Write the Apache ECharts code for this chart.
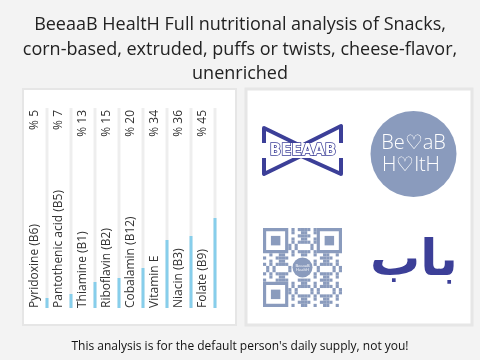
<!DOCTYPE html>
<html><head><meta charset="utf-8">
<script src="https://cdn.jsdelivr.net/npm/echarts@6/dist/echarts.min.js"></script>
<style>html,body{margin:0;padding:0;background:#f3f3f3}#c{width:480px;height:360px}</style>
</head><body><div id="c"></div>
<script>
var categories = ['Pyridoxine (B6)','Pantothenic acid (B5)','Thiamine (B1)','Riboflavin (B2)','Cobalamin (B12)','Vitamin E','Niacin (B3)','Folate (B9)'];
var values = [5, 7, 13, 15, 20, 34, 36, 45];
var yMax = 100;
var titleText = 'BeeaaB HealtH Full nutritional analysis of Snacks,\ncorn-based, extruded, puffs or twists, cheese-flavor,\nunenriched';
var footerText = "This analysis is for the default person's daily supply, not you!";

var FONT = 'Open Sans';
var DARK = '#3c3f98', SOFT = '#8a9bbd';

// QR-like decoration
var qr = [];
var qx = 263, qy = 228, N = 25, m = 79 / N;
function finder(cx, cy){
  qr.push({type:'rect', shape:{x:cx, y:cy, width:7*m, height:7*m}, style:{fill:'none', stroke:SOFT, lineWidth:m}, silent:true});
  qr.push({type:'rect', shape:{x:cx+2*m, y:cy+2*m, width:3*m, height:3*m}, style:{fill:SOFT}, silent:true});
}
for (var i = 0; i < N; i++) for (var j = 0; j < N; j++) {
  var inF = (i < 8 && j < 8) || (i < 8 && j > N-9) || (i > N-9 && j < 8);
  var inC = Math.abs(i-12) < 4 && Math.abs(j-12) < 4;
  if (inF || inC) continue;
  if (((i*i*5 + j*j*3 + i*j*7 + i + 2*j) % 7) < 3) qr.push({type:'rect', shape:{x:qx+j*m, y:qy+i*m, width:m, height:m}, style:{fill:SOFT}, silent:true});
}
finder(qx + m/2, qy + m/2); finder(qx + (N-7)*m - m/2, qy + m/2); finder(qx + m/2, qy + (N-7)*m - m/2);
qr.push({type:'circle', shape:{cx:qx+39.5, cy:qy+39.5, r:10}, style:{fill:SOFT}, silent:true});
qr.push({type:'text', style:{x:qx+39.5, y:qy+39.5, text:'BeeaaB\nHealtH', fill:'#fff', fontSize:4, align:'center', verticalAlign:'middle', fontFamily:FONT}, silent:true});

var chart = echarts.init(document.getElementById('c'), null, {renderer:'canvas'});
chart.setOption({
  backgroundColor: '#f3f3f3',
  animation: false,
  title: [{
    text: titleText, left: 'center', top: 8,
    textStyle: {fontFamily: FONT, fontSize: 18, fontWeight: 'normal', color: '#222', lineHeight: 24.5}
  }, {
    text: footerText, left: 'center', top: 336,
    textStyle: {fontFamily: FONT, fontSize: 12, fontWeight: 'normal', color: '#111'}
  }],
  graphic: [
    {type:'rect', z:-1, shape:{x:23, y:89, width:213, height:236}, style:{fill:'#fff', stroke:'#e6e6e6', lineWidth:2}, silent:true},
    {type:'rect', z:-1, shape:{x:246, y:89, width:226, height:236}, style:{fill:'#fff', stroke:'#e6e6e6', lineWidth:3}, silent:true},
    // bow-tie logo
    {type:'polygon', shape:{points:[[264,128],[301,146],[341,126],[341,174],[301,156],[264,174]]}, style:{fill:'none', stroke:DARK, lineWidth:4, lineJoin:'round'}, silent:true},
    {type:'rect', shape:{x:262, y:143, width:82, height:15}, style:{fill:'#fff'}, silent:true},
    {type:'text', style:{x:303, y:151, text:'BEEAAB', fill:'#fff', stroke:DARK, lineWidth:1.5, fontSize:15, fontWeight:'bold', fontFamily:'DejaVu Sans', align:'center', verticalAlign:'middle'}, silent:true},
    // circle logo
    {type:'circle', shape:{cx:413.5, cy:154, r:43}, style:{fill:SOFT}, silent:true},
    {type:'text', style:{x:413.5, y:143, text:'Be\u2661aB', fill:'#fff', fontSize:20, fontWeight:200, fontFamily:FONT, align:'center', verticalAlign:'middle'}, silent:true},
    {type:'text', style:{x:411, y:165, text:'H\u2661ltH', fill:'#fff', fontSize:20, fontWeight:200, fontFamily:FONT, align:'center', verticalAlign:'middle'}, silent:true},
    // arabic logo
    {type:'text', style:{x:414, y:262, text:'\u0628\u0627\u0628', fill:DARK, fontSize:50, fontWeight:'bold', fontFamily:'DejaVu Sans', align:'center', verticalAlign:'middle'}, silent:true}
  ].concat(qr),
  grid: {left: 35, right: 253, top: 108, bottom: 52},
  xAxis: {type:'category', data: categories, axisLine:{show:false}, axisTick:{show:false}, axisLabel:{show:false}},
  yAxis: {type:'value', min:0, max:yMax, show:false, splitLine:{show:false}},
  series: [
    {type:'bar', data: values, barWidth: 3, barGap: '-100%', itemStyle:{color:'#87ceeb'},
     showBackground: true, backgroundStyle:{color:'#eeeeee'}, z: 3},
    {type:'bar', data: categories.map(function(){return yMax;}), barWidth: 3, barGap: '-100%', itemStyle:{color:'rgba(0,0,0,0)'}, z: 2, silent:true,
     label:{show:true, position:[-10.5,'100%'], rotate:90, align:'left', verticalAlign:'middle', formatter:function(p){return p.name;}, fontFamily:FONT, fontSize:12, color:'#333'}},
    {type:'bar', data: categories.map(function(){return yMax;}), barWidth: 3, barGap: '-100%', itemStyle:{color:'rgba(0,0,0,0)'}, z: 2, silent:true,
     label:{show:true, position:[-10.5, 2], rotate:90, align:'right', verticalAlign:'middle', formatter:function(p){return '% ' + values[p.dataIndex];}, fontFamily:FONT, fontSize:12, color:'#333'}}
  ]
});
</script></body></html>
